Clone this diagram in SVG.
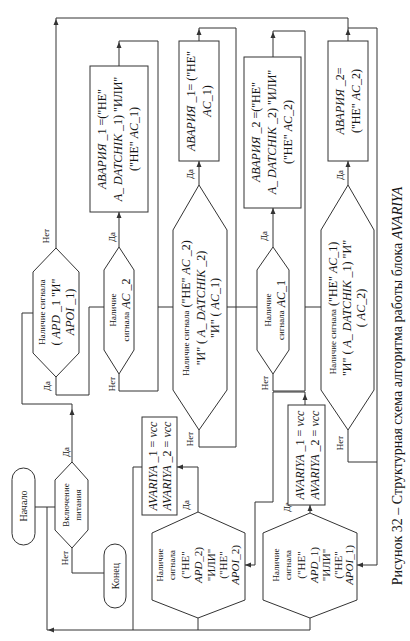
<svg xmlns="http://www.w3.org/2000/svg" xmlns:xlink="http://www.w3.org/1999/xlink" width="410" height="641" viewBox="0 0 410 641">
<style>
.ln{fill:none;stroke:#333;stroke-width:1}
.sh{fill:#fff;stroke:#333;stroke-width:1}
.ah{fill:#333}
text{font-family:"Liberation Serif","Times New Roman",serif;fill:#151515;dominant-baseline:central;text-anchor:middle;font-size:12px}
.s{font-size:9px}
.m{font-size:11px}
.i{font-style:italic}
.cap{font-size:14px}
</style>
<defs>
<path id="ah" d="M0,0 L-6,-2.5 L-6,2.5 Z"/>
</defs>
<rect width="410" height="641" fill="#fff"/>
<g id="connectors">
<path class="ln" d="M35,507 H55 M47,507 V630 H310 M133,467 H142 M133,467 V630 M198,618 V630 M310,618 V630"/>
<path class="ln" d="M72,548 V573 H104"/>
<path class="ln" d="M72,462 V404 H22 V313 H33"/>
<path class="ln" d="M56,248 V18 H348 V41 M348,28 H377 V565 H357"/>
<path class="ln" d="M56,377 V395 H89 V307 H104"/>
<path class="ln" d="M119,247 V212 M119,66 V41 H158 V391 H119 V374 M158,307 H173"/>
<path class="ln" d="M199,185 V161 M199,41 V28 H236 V447 H199 V430 M227,307 H257"/>
<path class="ln" d="M273,247 V208 M273,57 V31 H305 V391 H273 V374 M305,307 H321"/>
<path class="ln" d="M348,185 V161 M348,430 V462 H377"/>
<path class="ln" d="M198,512 V467 H177"/>
<path class="ln" d="M310,513 V505 M305,405 V392 H273 V502 H255 V565 H245"/>
<use xlink:href="#ah" class="ah" transform="translate(56,19) rotate(-90)"/>
<use xlink:href="#ah" class="ah" transform="translate(119,42) rotate(-90)"/>
<use xlink:href="#ah" class="ah" transform="translate(119,212) rotate(-90)"/>
<use xlink:href="#ah" class="ah" transform="translate(199,29) rotate(-90)"/>
<use xlink:href="#ah" class="ah" transform="translate(199,161) rotate(-90)"/>
<use xlink:href="#ah" class="ah" transform="translate(273,32) rotate(-90)"/>
<use xlink:href="#ah" class="ah" transform="translate(273,208) rotate(-90)"/>
<use xlink:href="#ah" class="ah" transform="translate(348,29) rotate(-90)"/>
<use xlink:href="#ah" class="ah" transform="translate(348,161) rotate(-90)"/>
<use xlink:href="#ah" class="ah" transform="translate(72,409) rotate(-90)"/>
<use xlink:href="#ah" class="ah" transform="translate(177,467) rotate(180)"/>
<use xlink:href="#ah" class="ah" transform="translate(310,505) rotate(-90)"/>
<use xlink:href="#ah" class="ah" transform="translate(305,394) rotate(-90)"/>
<use xlink:href="#ah" class="ah" transform="translate(245,565) rotate(180)"/>
<use xlink:href="#ah" class="ah" transform="translate(357,565) rotate(180)"/>
<use xlink:href="#ah" class="ah" transform="translate(48,630) rotate(180)"/>
<text class="s" transform="translate(46,236) rotate(-90)">Нет</text>
<text class="s" transform="translate(47,386) rotate(-90)">Да</text>
<text class="s" transform="translate(66,452) rotate(-90)">Да</text>
<text class="s" transform="translate(65,558) rotate(-90)">Нет</text>
<text class="s" transform="translate(112,237) rotate(-90)">Да</text>
<text class="s" transform="translate(112,384) rotate(-90)">Нет</text>
<text class="s" transform="translate(190,174) rotate(-90)">Да</text>
<text class="s" transform="translate(190,439) rotate(-90)">Нет</text>
<text class="s" transform="translate(264,236) rotate(-90)">Да</text>
<text class="s" transform="translate(265,383) rotate(-90)">Нет</text>
<text class="s" transform="translate(340,175) rotate(-90)">Да</text>
<text class="s" transform="translate(340,443) rotate(-90)">Нет</text>
<text class="s" transform="translate(186,505) rotate(-90)">Да</text>
<text class="s" transform="translate(287,507) rotate(-90)">Да</text>
</g>
<g id="start">
<rect class="sh" x="12" y="468" width="23" height="77" rx="11.5"/>
<text class="s" style="font-size:10px" transform="translate(23,506) rotate(-90)">Начало</text>
</g>
<g id="end">
<rect class="sh" x="104" y="544" width="22" height="64" rx="11"/>
<text class="s" style="font-size:10px" transform="translate(115,576) rotate(-90)">Конец</text>
</g>
<g id="power">
<path class="sh" d="M72,462 L88,480 V530 L72,548 L55,530 V480 Z"/>
<text class="s" transform="translate(66,505) rotate(-90)">Включение</text>
<text class="s" transform="translate(78,505) rotate(-90)">питания</text>
</g>
<g id="dec-apd1-and">
<path class="sh" d="M56,248 L79,272 V353 L56,377 L33,353 V272 Z"/>
<text class="s" transform="translate(42,312) rotate(-90)">Наличие сигнала</text>
<text transform="translate(56,312) rotate(-90)">( <tspan class="i">APD</tspan> _1 "И"</text>
<text transform="translate(70,312) rotate(-90)"><tspan class="i">APOI</tspan> _1)</text>
</g>
<g id="dec-ac2">
<path class="sh" d="M119,247 L134,270 V350 L119,374 L104,350 V270 Z"/>
<text class="s" transform="translate(113,310) rotate(-90)">Наличие</text>
<text transform="translate(126,310) rotate(-90)"><tspan class="s">сигнала</tspan> <tspan class="i">AC</tspan> _2</text>
</g>
<g id="box-a">
<rect class="sh" x="90" y="66" width="58" height="146"/>
<text transform="translate(102,139) rotate(-90)"><tspan class="i">АВАРИЯ</tspan> _1 =("НЕ"</text>
<text transform="translate(118,139) rotate(-90)"><tspan class="i">A_ DATCHIK</tspan> _1) "ИЛИ"</text>
<text transform="translate(134,139) rotate(-90)">("НЕ" <tspan class="i">AC</tspan>_1)</text>
</g>
<g id="dec-big1">
<path class="sh" d="M199,185 L227,230 V390 L199,430 L173,390 V230 Z"/>
<text transform="translate(186,308) rotate(-90)"><tspan class="s">Наличие сигнала</tspan> ("НЕ" <tspan class="i">AC</tspan> _2)</text>
<text transform="translate(201,308) rotate(-90)">"И" ( <tspan class="i">A_ DATCHIK</tspan> _2)</text>
<text transform="translate(215,308) rotate(-90)">"И" ( <tspan class="i">AC</tspan>_1)</text>
</g>
<g id="box-b">
<rect class="sh" x="179" y="41" width="40" height="120"/>
<text transform="translate(191,101) rotate(-90)"><tspan class="i">АВАРИЯ</tspan> _1= ("НЕ"</text>
<text transform="translate(207,101) rotate(-90)"><tspan class="i">AC</tspan>_1)</text>
</g>
<g id="dec-ac1">
<path class="sh" d="M273,247 L289,270 V350 L273,374 L257,350 V270 Z"/>
<text class="s" transform="translate(268,310) rotate(-90)">Наличие</text>
<text transform="translate(281,310) rotate(-90)"><tspan class="s">сигнала</tspan> <tspan class="i">AC</tspan>_1</text>
</g>
<g id="box-c">
<rect class="sh" x="244" y="57" width="57" height="151"/>
<text transform="translate(256,132) rotate(-90)"><tspan class="i">АВАРИЯ</tspan> _2 =("НЕ"</text>
<text transform="translate(272,132) rotate(-90)"><tspan class="i">A_ DATCHIK</tspan> _2) "ИЛИ"</text>
<text transform="translate(288,132) rotate(-90)">("НЕ" <tspan class="i">AC</tspan>_2)</text>
</g>
<g id="dec-big2">
<path class="sh" d="M348,185 L374,230 V390 L348,430 L321,390 V230 Z"/>
<text transform="translate(333,308) rotate(-90)"><tspan class="s">Наличие сигнала</tspan> ("НЕ" <tspan class="i">AC</tspan>_1)</text>
<text transform="translate(347,308) rotate(-90)">"И" ( <tspan class="i">A_ DATCHIK</tspan> _1) "И"</text>
<text transform="translate(361,308) rotate(-90)">( <tspan class="i">AC</tspan>_2)</text>
</g>
<g id="box-d">
<rect class="sh" x="328" y="41" width="40" height="120"/>
<text transform="translate(340,101) rotate(-90)"><tspan class="i">АВАРИЯ</tspan> _2=</text>
<text transform="translate(356,101) rotate(-90)">("НЕ" <tspan class="i">AC</tspan>_2)</text>
</g>
<g id="dec-apd2-or">
<path class="sh" d="M198,512 L245,533 V600 L198,618 L152,600 V533 Z"/>
<text class="s" transform="translate(160,565) rotate(-90)">Наличие</text>
<text class="s" transform="translate(172,565) rotate(-90)">сигнала</text>
<text class="m" transform="translate(185,565) rotate(-90)">("НЕ"</text>
<text class="m" transform="translate(198,565) rotate(-90)"><tspan class="i">APD</tspan>_2)</text>
<text class="m" transform="translate(211,565) rotate(-90)">"ИЛИ"</text>
<text class="m" transform="translate(223,565) rotate(-90)">("НЕ"</text>
<text class="m" transform="translate(235,565) rotate(-90)"><tspan class="i">APOI</tspan>_2)</text>
</g>
<g id="box-e1">
<rect class="sh" x="142" y="417" width="35" height="98"/>
<text transform="translate(153,466) rotate(-90)"><tspan class="i">AVARIYA</tspan> _1 = <tspan class="i">vcc</tspan></text>
<text transform="translate(167,466) rotate(-90)"><tspan class="i">AVARIYA</tspan> _2 = <tspan class="i">vcc</tspan></text>
</g>
<g id="dec-apd1-or">
<path class="sh" d="M310,513 L357,533 V600 L310,618 L263,600 V533 Z"/>
<text class="s" transform="translate(276,565) rotate(-90)">Наличие</text>
<text class="s" transform="translate(288,565) rotate(-90)">сигнала</text>
<text class="m" transform="translate(301,565) rotate(-90)">("НЕ"</text>
<text class="m" transform="translate(314,565) rotate(-90)"><tspan class="i">APD</tspan>_1)</text>
<text class="m" transform="translate(326,565) rotate(-90)">"ИЛИ"</text>
<text class="m" transform="translate(338,565) rotate(-90)">("НЕ"</text>
<text class="m" transform="translate(349,565) rotate(-90)"><tspan class="i">APOI</tspan>_1)</text>
</g>
<g id="box-e2">
<rect class="sh" x="288" y="405" width="37" height="100"/>
<text transform="translate(300,455) rotate(-90)"><tspan class="i">AVARIYA</tspan> _1 = <tspan class="i">vcc</tspan></text>
<text transform="translate(315,455) rotate(-90)"><tspan class="i">AVARIYA</tspan> _2 = <tspan class="i">vcc</tspan></text>
</g>
<g id="caption">
<text class="cap" transform="translate(397,386) rotate(-90)">Рисунок 32 – Структурная схема алгоритма работы блока <tspan class="i">AVARIYA</tspan></text>
</g>
</svg>
